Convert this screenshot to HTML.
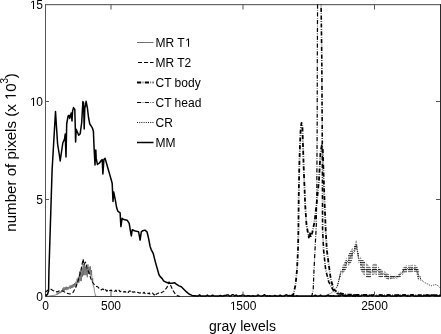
<!DOCTYPE html>
<html><head><meta charset="utf-8"><style>
html,body{margin:0;padding:0;background:#fff;width:441px;height:334px;overflow:hidden;}
body{position:relative;font-family:"Liberation Sans",sans-serif;}
svg{filter:grayscale(1);}
</style></head><body>
<svg width="441" height="334" viewBox="0 0 441 334" style="position:absolute;left:0;top:0">
<defs><clipPath id="ax"><rect x="45" y="4" width="396" height="293"/></clipPath>
<pattern id="hs" width="6" height="2.3" patternUnits="userSpaceOnUse"><rect x="0" y="0" width="5" height="1" fill="#000" fill-opacity="0.85"/></pattern></defs>
<rect x="45" y="4" width="396" height="1" fill="#666"/>
<rect x="45" y="5" width="395" height="1" fill="#000" fill-opacity="0.12"/>
<rect x="45" y="4" width="1" height="293" fill="#555"/>
<rect x="440" y="4" width="1" height="293" fill="#2a2a2a"/>
<rect x="45" y="296" width="396" height="1" fill="#444"/>
<g clip-path="url(#ax)" fill="none" stroke-linejoin="round">
<polyline points="47.00,296.50 50.00,295.90 55.00,295.20 55.50,294.88 56.10,295.18 56.70,293.66 57.30,294.73 57.90,292.71 58.50,294.08 59.10,291.98 59.70,293.36 60.30,291.60 60.90,292.84 61.50,290.51 62.10,292.10 62.70,288.38 63.30,290.84 63.90,287.14 64.50,290.64 65.10,287.21 65.70,289.84 66.30,286.61 66.90,290.22 67.50,287.17 68.10,289.60 68.70,286.85 69.30,288.51 69.90,285.56 70.50,288.74 71.10,285.20 71.70,288.12 72.30,284.71 72.90,287.81 73.50,284.02 74.10,286.69 74.70,283.10 75.30,286.97 75.90,281.76 76.50,286.43 77.10,278.59 77.70,283.38 78.30,276.73 78.90,282.78 79.50,271.54 80.10,281.22 80.70,270.63 81.30,280.96 81.90,268.00 82.50,276.61 83.10,263.63 83.70,275.32 84.30,264.75 84.90,275.11 85.50,266.38 86.10,275.39 86.70,268.03 87.30,277.27 87.90,264.34 88.50,273.76 89.10,266.81 89.70,274.50 90.30,266.24 90.90,275.67 91.50,270.06 92.10,281.35 92.70,278.28 93.30,286.62 93.90,286.64 94.50,291.82 95.10,293.69 95.40,296.00 97.00,296.50" stroke="#444" stroke-width="0.6"/>
<polyline points="45.50,292.00 48.50,289.70 50.50,289.00 53.00,290.50 57.00,292.00 60.00,290.50 63.00,291.00 66.00,293.00 70.00,294.00 73.00,292.50 76.00,287.00 79.00,278.00 81.00,270.00 82.50,262.00 83.20,259.00 84.00,265.00 85.50,262.00 87.00,268.00 89.00,273.00 91.00,279.00 93.00,283.00 95.40,286.00 98.00,287.03 98.85,288.13 99.70,288.37 100.55,289.34 101.40,289.93 102.32,289.06 103.24,289.10 104.16,290.73 105.08,289.83 106.00,289.92 106.83,291.33 107.67,290.41 108.50,291.11 109.33,290.49 110.17,290.82 111.00,289.97 111.82,290.90 112.64,291.37 113.45,290.81 114.27,291.25 115.09,291.18 115.91,290.14 116.73,291.45 117.55,291.20 118.36,290.73 119.18,290.30 120.00,291.86 120.83,291.20 121.67,291.69 122.50,292.03 123.33,291.79 124.17,292.21 125.00,291.31 125.83,292.09 126.67,291.50 127.50,292.43 128.33,292.38 129.17,291.03 130.00,291.14 130.83,291.34 131.67,292.74 132.50,291.84 133.33,292.23 134.17,291.69 135.00,292.11 135.83,291.94 136.67,291.93 137.50,292.40 138.33,292.45 139.17,293.08 140.00,292.73 140.83,293.26 141.67,293.22 142.50,293.56 143.33,293.07 144.17,292.25 145.00,293.60 145.83,293.88 146.67,293.86 147.50,293.35 148.33,293.70 149.17,292.89 150.00,294.10 150.90,293.73 151.80,293.31 152.70,293.01 153.60,294.54 154.50,294.88 155.42,293.19 156.33,294.41 157.25,293.64 158.17,293.10 159.08,293.30 160.00,293.60 163.60,291.40 166.80,287.70 168.60,283.60 169.00,281.80 170.90,285.90 173.20,290.90 175.40,294.00 177.20,295.40 180.00,296.50" stroke="#000" stroke-width="1.1" stroke-dasharray="4 2"/>
<polyline points="326.00,296.50 328.20,294.50 328.70,294.29 329.20,294.08 329.70,293.88 330.20,293.62 330.70,293.28 331.20,292.95 331.70,292.62 332.20,292.28 332.70,291.95 333.20,291.53 333.70,290.99 334.20,290.45 334.70,289.91 335.20,289.37 335.70,288.83 336.20,288.05 336.70,286.93 337.20,285.80 337.70,284.68 338.20,283.11 338.70,280.88 339.20,278.65 339.70,276.43 340.20,274.20 340.70,273.29 341.20,272.37 341.70,271.46 342.20,270.55 342.70,269.70 343.20,268.95 343.70,268.20 344.20,267.45 344.70,266.70 345.20,265.83 345.70,264.89 346.20,263.95 346.70,263.01 347.20,262.07 347.70,261.20 348.20,260.43 348.70,259.67 349.20,258.91 349.70,258.15 350.20,257.42 350.70,256.68 351.20,255.94 351.70,255.14 352.20,254.24 352.70,253.34 353.20,252.44 353.70,251.38 354.20,250.08 354.70,248.78 355.20,247.25 355.70,245.38 356.20,245.00 356.70,245.00 357.20,249.57 357.70,253.80 358.20,255.80 358.70,257.80 359.20,259.57 359.70,260.99 360.20,262.42 360.70,263.84 361.20,264.93 361.70,265.50 362.20,266.08 362.70,266.65 363.20,267.20 363.70,267.69 364.20,268.18 364.70,268.67 365.20,269.16 365.70,269.65 366.20,270.09 366.70,270.43 367.20,270.77 367.70,271.11 368.20,271.45 368.70,271.79 369.20,272.06 369.70,272.23 370.20,272.39 370.70,272.55 371.20,272.34 371.70,271.55 372.20,270.76 372.70,269.97 373.20,269.44 373.70,269.27 374.20,269.11 374.70,268.95 375.20,268.97 375.70,269.25 376.20,269.54 376.70,269.83 377.20,270.21 377.70,270.72 378.20,271.24 378.70,271.76 379.20,272.27 379.70,272.79 380.20,273.14 380.70,273.26 381.20,273.37 381.70,273.48 382.20,273.60 382.70,273.71 383.20,273.82 383.70,273.93 384.20,274.15 384.70,274.52 385.20,274.90 385.70,275.27 386.20,275.60 386.70,275.85 387.20,276.10 387.70,276.35 388.20,276.60 388.70,276.85 389.20,277.00 389.70,277.00 390.20,277.00 390.70,277.00 391.20,277.00 391.70,277.00 392.20,277.00 392.70,277.00 393.20,277.00 393.70,277.00 394.20,277.00 394.70,277.00 395.20,277.00 395.70,277.00 396.20,277.00 396.70,277.00 397.20,276.84 397.70,276.46 398.20,276.07 398.70,275.68 399.20,275.29 399.70,274.90 400.20,274.51 400.70,274.13 401.20,273.74 401.70,273.35 402.20,272.57 402.70,271.78 403.20,271.00 403.70,270.22 404.20,269.68 404.70,269.49 405.20,269.31 405.70,269.13 406.20,268.94 406.70,268.76 407.20,268.67 407.70,268.71 408.20,268.75 408.70,268.79 409.20,268.83 409.70,268.88 410.20,268.86 410.70,268.75 411.20,268.64 411.70,268.53 412.20,268.42 412.70,268.32 413.20,268.27 413.70,268.33 414.20,268.39 414.70,268.45 415.20,268.51 415.70,268.56 416.20,269.14 416.70,270.49 417.20,271.84 417.70,273.19 418.20,274.36 418.70,275.26 419.20,276.16 419.70,277.06 420.20,277.96 420.70,278.86 421.20,279.59 421.70,280.06 422.20,280.54 422.70,281.01 423.20,281.49 423.70,281.97 424.20,282.34 424.70,282.57 425.20,282.81 425.70,283.04 426.20,283.27 426.70,283.50 427.20,283.73 427.70,283.96 428.20,284.22 428.70,284.52 429.20,284.82 429.70,285.12 430.20,285.42 430.70,285.72 431.20,285.83 431.70,285.66 432.20,285.50 432.70,285.33 433.20,285.16 433.70,284.99 434.20,284.82 434.70,284.65 435.20,284.57 435.70,284.62 436.20,284.67 436.70,284.72 437.20,284.96 437.70,285.47 438.20,285.98 438.70,286.50 439.20,287.01 439.70,287.53 440.20,288.04" stroke="#000" stroke-width="0.9" stroke-dasharray="1 1.2"/>
<polygon points="337.00,284.50 337.50,283.25 338.00,282.00 338.50,279.50 339.00,277.00 339.50,274.50 340.00,272.00 340.50,270.35 341.00,269.26 341.50,268.17 342.00,267.09 342.50,266.00 343.00,265.12 343.50,264.25 344.00,263.38 344.50,262.50 345.00,261.58 345.50,260.46 346.00,259.35 346.50,258.23 347.00,257.12 347.50,256.00 348.00,255.17 348.50,254.33 349.00,253.50 349.50,252.67 350.00,251.76 350.50,250.84 351.00,249.92 351.50,249.00 352.00,248.70 352.50,248.40 353.00,248.10 353.50,247.80 354.00,246.53 354.50,245.27 355.00,244.00 355.50,241.50 356.00,240.00 356.50,240.00 357.00,242.57 357.50,249.00 358.00,250.67 358.50,252.33 359.00,254.00 359.50,255.10 360.00,256.20 360.50,257.30 361.00,258.40 361.50,258.80 362.00,259.20 362.50,259.60 363.00,260.00 363.50,260.43 364.00,260.87 364.50,261.30 365.00,261.73 365.50,262.17 366.00,262.60 366.50,263.17 367.00,263.73 367.50,264.30 368.00,264.87 368.50,265.43 369.00,266.00 369.50,266.50 370.00,267.00 370.50,267.50 371.00,268.00 371.50,267.00 372.00,266.00 372.50,265.00 373.00,264.00 373.50,263.90 374.00,263.80 374.50,263.70 375.00,263.60 375.50,263.83 376.00,264.05 376.50,264.27 377.00,264.50 377.50,265.23 378.00,265.97 378.50,266.70 379.00,267.43 379.50,268.17 380.00,268.90 380.50,269.16 381.00,269.42 381.50,269.69 382.00,269.95 382.50,270.21 383.00,270.48 383.50,270.74 384.00,271.00 384.50,271.38 385.00,271.75 385.50,272.12 386.00,272.50 386.50,272.75 387.00,273.00 387.50,273.25 388.00,273.50 388.50,273.75 389.00,274.00 389.50,274.23 390.00,274.47 390.50,274.70 391.00,274.93 391.50,275.17 392.00,275.40 392.50,275.40 393.00,275.40 393.50,275.40 394.00,275.40 394.50,275.40 395.00,275.40 395.50,275.40 396.00,275.40 396.50,275.40 397.00,275.40 397.50,274.90 398.00,274.40 398.50,273.90 399.00,273.40 399.50,272.90 400.00,272.40 400.50,271.90 401.00,271.40 401.50,270.90 402.00,270.15 402.50,269.24 403.00,268.33 403.50,267.41 404.00,266.50 404.50,266.25 405.00,266.00 405.50,265.75 406.00,265.50 406.50,265.25 407.00,265.00 407.50,265.08 408.00,265.17 408.50,265.25 409.00,265.33 409.50,265.42 410.00,265.50 410.50,265.33 411.00,265.17 411.50,265.00 412.00,264.83 412.50,264.67 413.00,264.50 413.50,264.62 414.00,264.73 414.50,264.85 415.00,264.97 415.50,265.08 416.00,265.20 416.50,265.90 417.00,266.60 417.50,267.30 418.00,268.00 418.50,269.63 419.00,271.27 419.50,272.90 420.00,274.53 420.50,276.17 421.00,277.80 421.00,281.00 420.50,280.83 420.00,280.67 419.50,280.50 419.00,280.33 418.50,280.17 418.00,280.00 417.50,278.00 417.00,276.00 416.50,274.00 416.00,272.00 415.50,272.00 415.00,272.00 414.50,272.00 414.00,272.00 413.50,272.00 413.00,272.00 412.50,272.05 412.00,272.10 411.50,272.15 411.00,272.20 410.50,272.25 410.00,272.30 409.50,272.30 409.00,272.30 408.50,272.30 408.00,272.30 407.50,272.30 407.00,272.30 406.50,272.42 406.00,272.53 405.50,272.65 405.00,272.77 404.50,272.88 404.00,273.00 403.50,273.65 403.00,274.30 402.50,274.96 402.00,275.61 401.50,276.11 401.00,276.39 400.50,276.66 400.00,276.94 399.50,277.22 399.00,277.49 398.50,277.77 398.00,278.05 397.50,278.32 397.00,278.60 396.50,278.60 396.00,278.60 395.50,278.60 395.00,278.60 394.50,278.60 394.00,278.60 393.50,278.60 393.00,278.60 392.50,278.60 392.00,278.60 391.50,278.83 391.00,279.07 390.50,279.30 390.00,279.53 389.50,279.77 389.00,280.00 388.50,279.75 388.00,279.50 387.50,279.25 387.00,279.00 386.50,278.75 386.00,278.50 385.50,278.12 385.00,277.75 384.50,277.38 384.00,277.00 383.50,277.04 383.00,277.07 382.50,277.11 382.00,277.15 381.50,277.19 381.00,277.23 380.50,277.26 380.00,277.30 379.50,277.00 379.00,276.70 378.50,276.40 378.00,276.10 377.50,275.80 377.00,275.50 376.50,275.15 376.00,274.80 375.50,274.45 375.00,274.10 374.50,274.33 374.00,274.55 373.50,274.77 373.00,275.00 372.50,275.57 372.00,276.15 371.50,276.73 371.00,277.30 370.50,277.48 370.00,277.65 369.50,277.82 369.00,278.00 368.50,277.88 368.00,277.77 367.50,277.65 367.00,277.53 366.50,277.42 366.00,277.30 365.50,276.75 365.00,276.20 364.50,275.65 364.00,275.10 363.50,274.55 363.00,274.00 362.50,273.25 362.00,272.50 361.50,271.75 361.00,271.00 360.50,269.25 360.00,267.50 359.50,265.75 359.00,264.00 358.50,261.67 358.00,259.33 357.50,257.00 357.00,252.00 356.50,250.00 356.00,250.00 355.50,250.75 355.00,252.00 354.50,253.33 354.00,254.67 353.50,256.00 353.00,257.50 352.50,259.00 352.00,260.50 351.50,262.00 351.00,262.55 350.50,263.11 350.00,263.66 349.50,264.24 349.00,264.93 348.50,265.62 348.00,266.31 347.50,267.00 347.00,267.77 346.50,268.54 346.00,269.31 345.50,270.08 345.00,270.85 344.50,271.50 344.00,272.12 343.50,272.75 343.00,273.38 342.50,274.00 342.00,274.74 341.50,275.48 341.00,276.22 340.50,276.96 340.00,278.18 339.50,280.14 339.00,282.09 338.50,284.05 338.00,286.00 337.50,287.00 337.00,288.00" fill="url(#hs)" stroke="none"/>
<polyline points="311.50,297.00 312.30,294.00 313.20,289.50 314.00,270.00 315.00,250.00 316.30,225.00 316.80,190.00 317.20,120.00 317.30,60.00 317.60,0.00" stroke="#000" stroke-width="1.2" stroke-dasharray="4.2 1.5 0.6 1.5"/>
<polyline points="321.00,0.00 321.30,20.00 321.80,60.00 322.10,110.00 322.40,170.00 322.60,230.00 323.60,250.00 325.70,270.00 328.80,282.00 333.00,290.00 337.00,293.50 345.00,295.20 360.00,296.50" stroke="#000" stroke-width="1.6" stroke-dasharray="4.2 1.5 0.6 1.5"/>
<polyline points="291.50,296.50 293.50,294.00 295.50,285.00 297.00,270.00 298.00,250.00 298.40,230.00 298.70,200.00 299.20,170.00 299.80,150.00 300.60,130.00 301.50,122.80 302.40,126.00 303.60,165.00 305.20,205.00 306.50,225.00 307.60,231.00 308.80,237.50 309.80,232.00 310.60,237.50 312.30,232.50 314.70,221.00 317.00,200.00 319.00,180.00 320.50,152.00 321.80,145.50 322.80,150.00 323.50,172.00 324.50,200.00 325.70,230.00 326.80,250.00 328.80,265.00 330.90,280.00 334.10,290.00 339.30,293.00 345.60,294.50 358.00,295.00 440.00,295.20" stroke="#000" stroke-width="1.8" stroke-dasharray="4.2 1.5 0.6 1.5"/>
<polyline points="45.50,294.50 46.50,295.50 47.60,294.00 48.60,291.00 48.90,272.00 52.10,170.00 55.50,111.50 56.50,127.00 57.60,144.00 59.30,154.50 60.20,161.00 62.80,143.00 64.50,139.00 65.20,134.00 66.00,157.00 66.70,124.00 68.10,116.00 69.00,115.20 69.70,118.40 71.20,113.00 72.00,121.00 72.60,111.00 73.50,107.60 74.80,109.40 75.20,124.00 75.60,142.00 76.20,129.20 78.70,135.20 80.20,133.70 81.70,122.50 82.90,101.50 83.60,103.00 84.20,129.00 84.80,108.00 85.40,106.00 86.10,101.30 87.40,108.00 88.60,118.00 89.80,124.00 92.20,127.60 93.40,131.20 94.10,148.00 95.00,165.00 95.80,150.00 96.20,158.40 97.40,164.40 99.30,163.20 101.00,160.80 102.20,159.60 102.90,174.00 103.90,159.60 105.10,158.40 106.50,163.20 108.20,169.20 109.90,175.10 111.30,180.00 112.20,183.50 113.00,201.50 113.70,191.90 115.40,200.30 116.60,207.50 117.80,211.10 120.10,212.80 120.90,226.60 122.10,218.30 123.70,219.50 127.10,220.20 129.20,223.40 130.20,229.70 131.30,235.90 132.30,229.70 134.40,230.70 136.50,231.30 138.60,231.80 140.10,240.10 141.30,231.80 142.80,230.70 144.90,230.10 147.00,231.80 148.50,238.00 150.10,246.40 151.20,249.60 153.30,253.70 155.40,262.10 157.50,269.50 158.90,274.50 160.00,276.40 162.20,278.60 163.60,280.90 166.30,282.30 169.00,283.20 171.80,283.20 174.50,282.70 176.30,284.10 179.00,285.90 181.30,286.80 184.00,289.50 186.80,292.20 189.00,294.00 192.00,295.40 197.00,296.00 198.30,296.00 199.60,294.80 200.90,296.00 202.20,296.00 203.50,296.00 204.80,295.88 206.10,296.00 207.40,295.10 208.70,296.00 210.00,296.00 211.30,295.80 212.60,295.31 213.90,295.75 215.20,295.96 216.50,296.00 217.80,296.00 219.10,296.00 220.40,295.41 221.70,296.00 223.00,296.00 224.30,295.59 225.60,295.62 226.90,295.00 228.20,294.90 229.50,296.00 230.80,296.00 232.10,294.82 233.40,294.73 234.70,296.00 236.00,294.99 237.30,295.89 238.60,296.00 239.90,295.85 241.20,295.87 242.50,294.96 243.80,295.27 245.10,296.00 246.40,296.00 247.70,295.85 249.00,295.72 250.30,296.00 251.60,296.00 252.90,295.73 254.20,296.00 255.50,296.00 256.80,295.72 258.10,295.00 259.40,295.61 260.70,296.00 262.00,296.00 263.30,295.52 264.60,294.75 265.90,296.00 267.20,295.76 268.50,296.00 269.80,295.68 271.10,296.00 272.40,296.00 273.70,296.00 275.00,295.45 276.30,296.00 277.60,296.00 278.90,296.00 280.20,295.22 281.50,296.00 282.80,295.91 284.10,296.00 285.40,295.20 286.70,294.81 288.00,295.98 289.30,295.42 290.60,295.77 291.90,295.26 293.20,296.00 294.50,296.00 295.80,296.00 297.10,295.82 298.40,296.00 299.70,296.00 301.00,296.00 302.30,296.00 303.60,296.00 304.90,296.00 306.20,296.00 307.50,296.00 308.80,296.00 310.10,296.00 311.40,296.00 312.70,296.00 314.00,296.00 315.30,295.19 316.60,296.00 317.90,296.00 319.20,296.00 320.50,295.05 321.80,296.00 323.10,296.00 324.40,296.00 325.70,296.00 327.00,295.37 328.30,295.09 329.60,296.00 330.90,295.67 332.20,296.00 333.50,295.74 334.80,296.00 336.10,296.00 337.40,296.00 338.70,295.74 340.00,296.00 341.30,294.86 342.60,295.24 343.90,295.82 345.20,296.00 346.50,296.00 347.80,295.64 349.10,295.41 350.40,295.72 351.70,295.19 353.00,296.00 354.30,294.72 355.60,295.90 356.90,294.87 358.20,296.00 359.50,296.00 360.80,295.98 362.10,295.41 363.40,294.92 364.70,295.82 366.00,295.18 367.30,296.00 368.60,296.00 369.90,295.11 371.20,295.38 372.50,295.99 373.80,295.07 375.10,295.65 376.40,296.00 377.70,296.00 379.00,296.00 380.30,294.82 381.60,296.00 382.90,295.83 384.20,296.00 385.50,296.00 386.80,296.00 388.10,294.77 389.40,295.15 390.70,296.00 392.00,296.00 393.30,296.00 394.60,296.00 395.90,296.00 397.20,296.00 398.50,294.89 399.80,295.89 401.10,296.00 402.40,295.37 403.70,294.95 405.00,294.96 406.30,296.00 407.60,295.82 408.90,296.00 410.20,296.00 411.50,294.77 412.80,294.77 414.10,296.00 415.40,296.00 416.70,296.00 418.00,296.00 419.30,295.59 420.60,296.00 421.90,296.00 423.20,296.00 424.50,295.26 425.80,296.00 427.10,295.21 428.40,296.00 429.70,296.00 431.00,295.27 432.30,295.10 433.60,295.30 434.90,296.00 436.20,295.65 437.50,295.83 438.80,296.00 440.10,295.38 440.00,296.00" stroke="#000" stroke-width="1.5"/>
</g>
<path d="M111.0 296V291.5M111.0 5V9.5M243.0 296V291.5M243.0 5V9.5M374.5 296V291.5M374.5 5V9.5M46 199.5H49M440 199.5H436M46 101.5H49M440 101.5H436" stroke="#555" stroke-width="1" fill="none"/>
<g font-family="Liberation Sans, sans-serif" font-size="12" fill="#000">
<path d="M515 0L515 1237L197 1010L197 1180L530 1409L696 1409L696 0Z" transform="translate(29.98,9.00) scale(0.005859,-0.005859)" fill="#000"/>
<text x="36.33" y="9">5</text>
<path d="M515 0L515 1237L197 1010L197 1180L530 1409L696 1409L696 0Z" transform="translate(29.98,106.00) scale(0.005859,-0.005859)" fill="#000"/>
<text x="36.33" y="106">0</text>
<text x="36.33" y="203.5">5</text>
<text x="36.33" y="300.6">0</text>
<text x="42.16" y="309.9">0</text>
<text x="100.99" y="309.9">5</text>
<text x="107.66" y="309.9">0</text>
<text x="114.34" y="309.9">0</text>
<path d="M515 0L515 1237L197 1010L197 1180L530 1409L696 1409L696 0Z" transform="translate(229.98,309.90) scale(0.005859,-0.005859)" fill="#000"/>
<text x="236.33" y="309.9">5</text>
<text x="243.00" y="309.9">0</text>
<text x="249.67" y="309.9">0</text>
<text x="361.15" y="309.9">2</text>
<text x="367.83" y="309.9">5</text>
<text x="374.50" y="309.9">0</text>
<text x="381.17" y="309.9">0</text>
</g>
<g font-family="Liberation Sans, sans-serif" fill="#000">
<text x="242.5" y="330.8" text-anchor="middle" font-size="14">gray levels</text>
<g transform="translate(15.8,152.5) rotate(-90)">
<text id="yl" x="0" y="0" text-anchor="middle" font-size="15.1">number of pixels (x &#x2007;0<tspan font-size="10.5" dy="-8.3" dx="-0.6">3</tspan><tspan dy="8.3" dx="-0.3">)</tspan></text>
<path d="M515 0L515 1237L197 1010L197 1180L530 1409L696 1409L696 0Z" transform="translate(52.45,0.00) scale(0.007373,-0.007373)" fill="#000"/>
</g>
</g>
<g fill="none">
<line x1="137" y1="42.5" x2="153.5" y2="42.5" stroke="#333" stroke-width="0.7"/>
<line x1="137" y1="62.5" x2="153.5" y2="62.5" stroke="#000" stroke-width="1.1" stroke-dasharray="4 2" stroke-dashoffset="-1"/>
<line x1="137" y1="82.5" x2="153.5" y2="82.5" stroke="#000" stroke-width="1.8" stroke-dasharray="4.2 1.5 0.6 1.5"/>
<line x1="137" y1="102.5" x2="153.5" y2="102.5" stroke="#000" stroke-width="1" stroke-dasharray="4.2 1.5 0.6 1.5"/>
<line x1="137" y1="122.5" x2="153.5" y2="122.5" stroke="#000" stroke-width="0.9" stroke-dasharray="1 1.2"/>
<line x1="137" y1="142.5" x2="153.5" y2="142.5" stroke="#000" stroke-width="1.5"/>
</g>
<g font-family="Liberation Sans, sans-serif" font-size="12" fill="#000">
<text x="155.5" y="46.8">MR T</text><path d="M515 0L515 1237L197 1010L197 1180L530 1409L696 1409L696 0Z" transform="translate(184.98,46.80) scale(0.005859,-0.005859)" fill="#000"/>
<text x="155.5" y="66.8">MR T2</text>
<text x="155.5" y="86.8">CT body</text>
<text x="155.5" y="106.8">CT head</text>
<text x="155.5" y="126.8">CR</text>
<text x="155.5" y="146.8">MM</text>
</g>
</svg>
</body></html>
